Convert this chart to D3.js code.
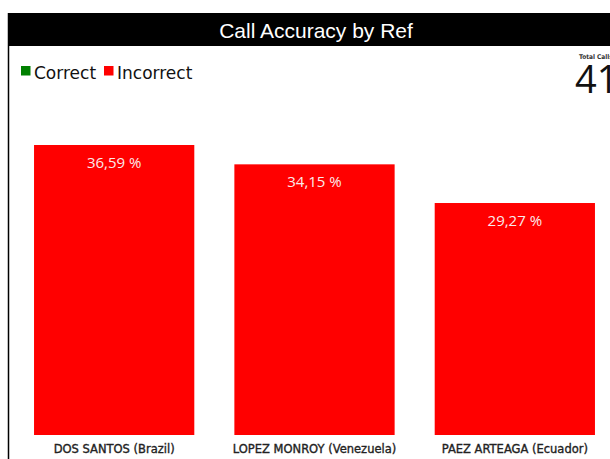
<!DOCTYPE html>
<html>
<head>
<meta charset="utf-8">
<script src="https://cdn.jsdelivr.net/npm/d3@7"></script>
<style>
  html, body { margin: 0; padding: 0; background: #fff; overflow: hidden; }
  svg { display: block; }
</style>
</head>
<body>
<svg id="chart" width="610" height="459"></svg>
<script>
const title = "Call Accuracy by Ref";
const categories = ["DOS SANTOS (Brazil)", "LOPEZ MONROY (Venezuela)", "PAEZ ARTEAGA (Ecuador)"];
const incorrectPct = [36.59, 34.15, 29.27];
const legendLabels = ["Correct", "Incorrect"];
const legendColors = ["#008000", "#ff0000"];
const totalLabel = "Total Calls";
const totalCalls = [41];

const svg = d3.select("#chart");

// frame
svg.append("rect").attr("x", 8).attr("y", 13).attr("width", 620).attr("height", 33).attr("fill", "#000");
svg.append("line").attr("x1", 8.5).attr("x2", 8.5).attr("y1", 13).attr("y2", 459)
  .attr("stroke", "#000").attr("stroke-width", 1.5);

svg.append("text").attr("x", 316).attr("y", 37.5).attr("text-anchor", "middle")
  .attr("font-family", "'Liberation Sans', Arial, sans-serif").attr("font-size", 21)
  .attr("fill", "#fff").text(title);

// legend
const legend = svg.append("g");
const legendX = [21, 104];
legendLabels.forEach((l, i) => {
  legend.append("rect").attr("x", legendX[i]).attr("y", 66).attr("width", 9.5).attr("height", 9.5)
    .attr("fill", legendColors[i]);
  legend.append("text").attr("x", legendX[i] + 13).attr("y", 79)
    .attr("font-family", "'DejaVu Sans', sans-serif").attr("font-size", 17)
    .attr("fill", "#111").text(l);
});

// total calls card
svg.append("text").attr("x", 579).attr("y", 59)
  .attr("font-family", "'DejaVu Sans Condensed', 'DejaVu Sans', sans-serif").attr("font-size", 6.5).attr("font-weight", "bold")
  .attr("fill", "#333").text(totalLabel);
svg.append("text").attr("x", 575).attr("y", 93)
  .attr("font-family", "'Open Sans', sans-serif").attr("font-size", 38)
  .attr("fill", "#111").text(totalCalls[0]);

// scales
const x = d3.scaleBand().domain(categories).range([14, 615]).paddingInner(0.2).paddingOuter(0.1);
const y = d3.scaleLinear().domain([0, d3.max(incorrectPct)]).range([435, 145]);

const data = categories.map((c, i) => ({ c, v: incorrectPct[i] }));

svg.append("g").selectAll("rect").data(data).join("rect")
  .attr("x", d => x(d.c)).attr("width", x.bandwidth())
  .attr("y", d => y(d.v)).attr("height", d => y(0) - y(d.v))
  .attr("fill", "#ff0000");

const fmt = v => d3.format(".2f")(v).replace(".", ",") + " %";
svg.append("g").selectAll("text").data(data).join("text")
  .attr("x", d => x(d.c) + x.bandwidth() / 2).attr("y", d => y(d.v) + 22.5)
  .attr("text-anchor", "middle")
  .attr("font-family", "'Open Sans', sans-serif").attr("font-size", 15)
  .attr("fill", "#fbeaea").text(d => fmt(d.v));

// x axis labels
const xAxis = d3.axisBottom(x).tickSize(0).tickPadding(0);
const gx = svg.append("g").attr("transform", "translate(0,444.5)").call(xAxis);
gx.select(".domain").remove();
gx.selectAll("text")
  .attr("dy", "0.71em")
  .attr("font-family", "'DejaVu Sans', sans-serif").attr("font-size", 11.5)
  .attr("fill", "#222").attr("stroke", "#222").attr("stroke-width", 0.35);
</script>
</body>
</html>
